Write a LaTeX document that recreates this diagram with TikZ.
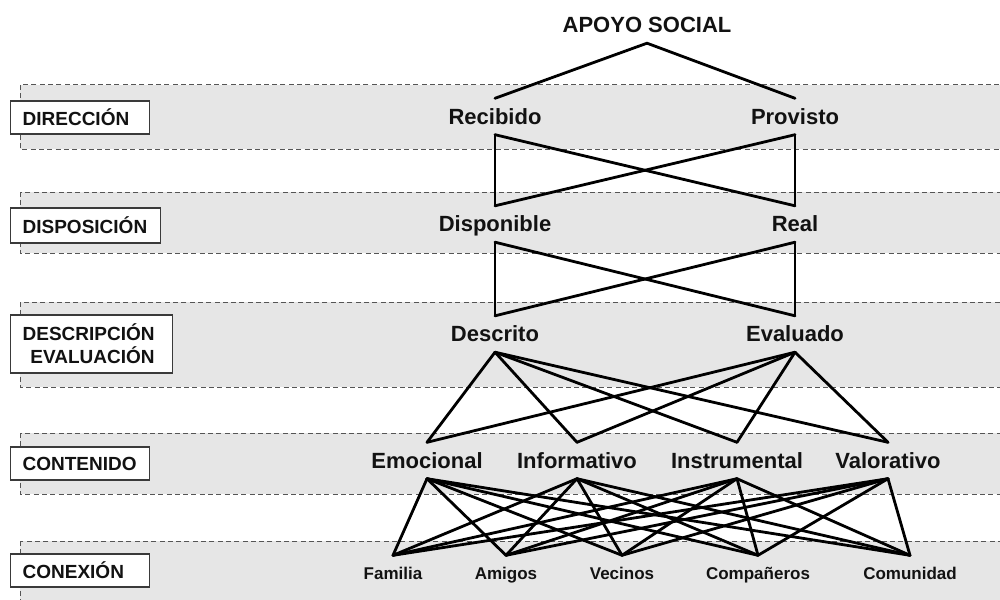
\documentclass[tikz,border=0pt]{standalone}
\usepackage{fontspec}
\setmainfont{Liberation Sans}
\begin{document}
\begin{tikzpicture}[x=1pt,y=-1pt,
  band/.style={fill=bandgray,draw=dashgray,line width=1pt,dash pattern=on 5pt off 3.3pt},
  dimbox/.style={draw=boxgray,fill=white,line width=1.3pt,anchor=west,inner xsep=12pt,inner ysep=0pt,
    font=\bfseries\fontsize{19}{23}\selectfont,text=black!93},
  term/.style={font=\bfseries\fontsize{22}{24}\selectfont,inner sep=0pt,text height=15.8pt,text depth=0pt,
    minimum height=36pt,text=black!93},
  small/.style={font=\bfseries\fontsize{17}{19}\selectfont,inner sep=0pt,text height=12.2pt,text depth=0pt,
    minimum height=36pt,text=black!93},
  link/.style={line width=2.8pt,black,line cap=round,line join=round}]
\definecolor{bandgray}{HTML}{E6E6E6}
\definecolor{dashgray}{HTML}{555555}
\definecolor{boxgray}{HTML}{3A3A3A}
\useasboundingbox (0,0) rectangle (1000,599);

% shaded dimension bands
\draw[band] (20,85) rectangle (1010,149);
\draw[band] (20,192) rectangle (1010,253);
\draw[band] (20,302) rectangle (1010,387);
\draw[band] (20,433) rectangle (1010,494);
\draw[band] (20,541) rectangle (1010,640);

% dimension labels
\node[dimbox,minimum width=139pt,minimum height=33pt,text width=115pt,align=left] (dir) at (10,117.5) {DIRECCIÓN};
\node[dimbox,minimum width=150pt,minimum height=35pt,text width=126pt,align=left] (dis) at (10,225.5) {DISPOSICIÓN};
\node[dimbox,minimum height=58pt,align=right] (des) at (10,344) {DESCRIPCIÓN\hspace*{6pt}\\EVALUACIÓN\hspace*{6pt}};
\node[dimbox,minimum width=139pt,minimum height=33pt,text width=115pt,align=left] (con) at (10,463.5) {CONTENIDO};
\node[dimbox,minimum width=139pt,minimum height=33pt,text width=115pt,align=left] (cnx) at (10,570.5) {CONEXIÓN};

% terms
\node[term] (apoyo) at (647,25) {APOYO SOCIAL};
\node[term] (rec) at (495,116.5) {Recibido};
\node[term] (pro) at (795,116.5) {Provisto};
\node[term] (disp) at (495,224) {Disponible};
\node[term] (real) at (795,224) {Real};
\node[term] (desc) at (495,334) {Descrito};
\node[term] (eval) at (795,334) {Evaluado};
\node[term] (emo) at (427,460.5) {Emocional};
\node[term] (inf) at (577,460.5) {Informativo};
\node[term] (ins) at (737,460.5) {Instrumental};
\node[term] (val) at (888,460.5) {Valorativo};
\node[small] (fam) at (393,573.5) {Familia};
\node[small] (ami) at (506,573.5) {Amigos};
\node[small] (vec) at (622,573.5) {Vecinos};
\node[small] (comp) at (758,573.5) {Compañeros};
\node[small] (comu) at (910,573.5) {Comunidad};

% connectors
\draw[link] (rec.north) -- (apoyo.south) -- (pro.north);
\foreach \a in {rec,pro}
  \foreach \b in {disp,real}
    \draw[link] (\a.south) -- (\b.north);
\foreach \a in {disp,real}
  \foreach \b in {desc,eval}
    \draw[link] (\a.south) -- (\b.north);
\foreach \a in {desc,eval}
  \foreach \b in {emo,inf,ins,val}
    \draw[link] (\a.south) -- (\b.north);
\foreach \a in {emo,inf,ins,val}
  \foreach \b in {fam,ami,vec,comp,comu}
    \draw[link] (\a.south) -- (\b.north);
\end{tikzpicture}
\end{document}
